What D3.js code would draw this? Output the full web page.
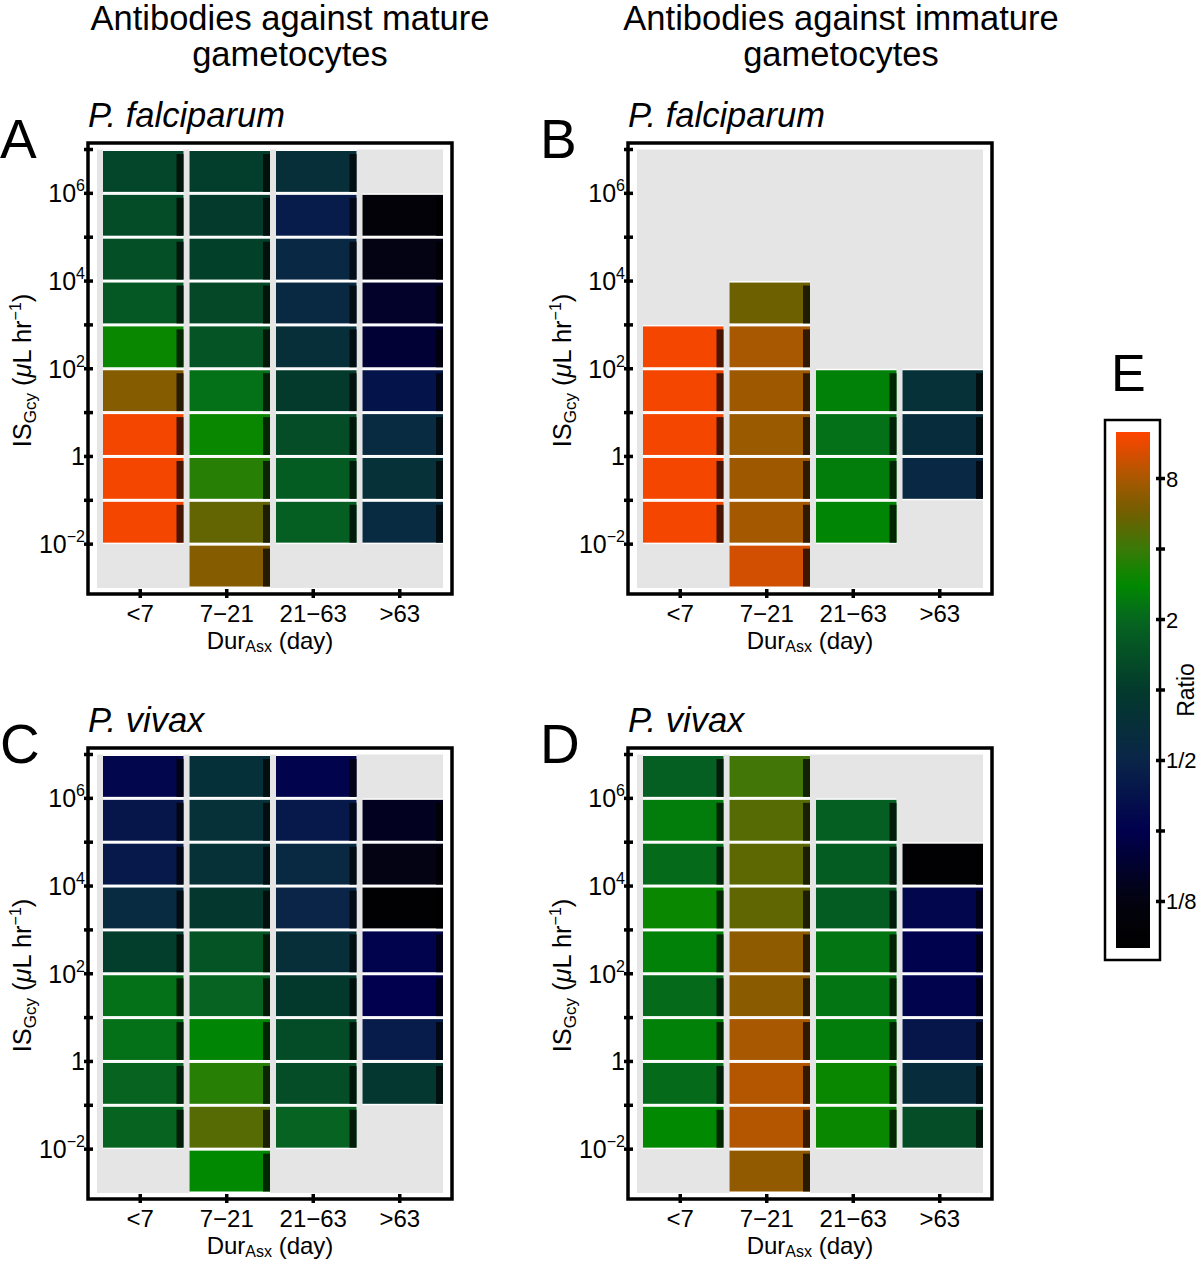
<!DOCTYPE html>
<html>
<head>
<meta charset="utf-8">
<script src="https://cdn.jsdelivr.net/npm/d3@7"></script>
<style>
  body { margin: 0; background: #fff; }
  svg { font-family: "Liberation Sans", Arial, sans-serif; }
</style>
</head>
<body>
<svg id="fig" width="1200" height="1262"></svg>
<script>
// duration bins (x) and IS_Gcy decades (y, log10 of lower bin edge)
const durCats = ['<7', '7\u221221', '21\u221263', '>63'];
const yLabelExp = [-2, 0, 2, 4, 6];
const yTickExp = [-2, -1, 0, 1, 2, 3, 4, 5, 6, 7];
const ratioTicks = [8, 4, 2, 1, 0.5, 0.25, 0.125];
const ratioLabels = ['8', '', '2', '', '1/2', '', '1/8'];

// each column: top bin exponent, then ratios from the top bin downwards
// A: mature, P. falciparum
const aTop = [6, 6, 6, 5];
const aRatio = [
  [1.2, 1.3, 1.4, 1.6, 3, 6.5, 12, 12, 12],
  [1.05, 1.0, 1.1, 1.25, 1.5, 2.2, 3, 3.6, 5.2, 6.5],
  [0.7, 0.42, 0.55, 0.58, 0.7, 1.0, 1.35, 1.7, 1.75],
  [0.1, 0.13, 0.17, 0.19, 0.36, 0.6, 0.75, 0.6]
];
// B: immature, P. falciparum
const bTop = [2, 3, 1, 1];
const bRatio = [
  [12, 12, 12, 12, 12],
  [5.5, 8, 7.5, 7.3, 7.5, 7.8, 10],
  [2.6, 2.2, 2.5, 2.7],
  [0.75, 0.65, 0.55]
];
// C: mature, P. vivax
const cTop = [6, 6, 6, 5];
const cRatio = [
  [0.28, 0.38, 0.4, 0.6, 1.05, 2.2, 2.2, 1.95, 1.95],
  [0.72, 0.75, 0.76, 0.95, 1.5, 1.9, 2.7, 3.6, 4.8, 2.8],
  [0.27, 0.4, 0.58, 0.5, 0.7, 0.98, 1.3, 1.35, 1.9],
  [0.15, 0.13, 0.09, 0.27, 0.25, 0.42, 0.9]
];
// D: immature, P. vivax
const dTop = [6, 6, 5, 4];
const dRatio = [
  [1.8, 2.5, 2.1, 3, 2.6, 2.1, 2.6, 2.1, 2.8],
  [4.2, 4.8, 5.0, 5.1, 6.8, 6.7, 8, 8.5, 8.5, 7],
  [1.8, 1.7, 1.7, 2.3, 2.3, 2.5, 3, 3],
  [0.09, 0.28, 0.26, 0.27, 0.38, 0.65, 1.35]
];

// colour map on log2(ratio)
const cStops = [-3.66, -3, -2, -1, 0, 1, 1.5, 2, 2.5, 3, 3.66];
const cCols = ['#000000', '#03030f', '#00004e', '#0a2548', '#033a2c', '#066620',
  '#008a00', '#3a7a08', '#705e00', '#a85800', '#ff4400'];
const color = d3.scaleLinear().domain(cStops).range(cCols)
  .interpolate(d3.interpolateRgb).clamp(true);
const fillOf = r => color(Math.log2(r));

const svg = d3.select('#fig');

// column headers
[['Antibodies against mature', 290], ['Antibodies against immature', 841]].forEach(([t, cx]) => {
  const tx = svg.append('text').attr('text-anchor', 'middle').attr('font-size', 34.5);
  tx.append('tspan').attr('x', cx).attr('y', 30).text(t);
  tx.append('tspan').attr('x', cx).attr('y', 66).text('gametocytes');
});

const W = 364, H = 451;
const x = d3.scaleBand().domain(durCats).range([9, 355]);
const y = d3.scaleLog().domain([1e-3, 1e7]).range([445, 6.5]);

const panels = [
  { letter: 'A', title: 'P. falciparum', fx: 88, fy: 143, top: aTop, vals: aRatio },
  { letter: 'B', title: 'P. falciparum', fx: 628, fy: 143, top: bTop, vals: bRatio },
  { letter: 'C', title: 'P. vivax', fx: 88, fy: 748, top: cTop, vals: cRatio },
  { letter: 'D', title: 'P. vivax', fx: 628, fy: 748, top: dTop, vals: dRatio }
];

panels.forEach(p => {
  const g = svg.append('g').attr('transform', `translate(${p.fx},${p.fy})`);

  svg.append('text').attr('x', p.fx - 88).attr('y', p.fy + 15)
    .attr('font-size', 55).text(p.letter);
  svg.append('text').attr('x', p.fx).attr('y', p.fy - 16)
    .attr('font-size', 34.5).attr('font-style', 'italic').text(p.title);

  g.append('rect').attr('x', x.range()[0]).attr('y', y(1e7))
    .attr('width', x.range()[1] - x.range()[0]).attr('height', y(1e-3) - y(1e7))
    .attr('fill', '#e5e5e5');

  const cells = [];
  p.vals.forEach((col, i) => {
    col.forEach((r, j) => cells.push({ cat: durCats[i], e: p.top[i] - j, r: r }));
  });

  const bw = x.bandwidth();
  const cg = g.selectAll('g.cell').data(cells).enter().append('g').attr('class', 'cell');
  cg.append('rect')
    .attr('x', d => x(d.cat) + 6).attr('width', bw - 6)
    .attr('y', d => y(Math.pow(10, d.e + 1))).attr('height', d => y(Math.pow(10, d.e)) - y(Math.pow(10, d.e + 1)))
    .attr('fill', '#fff');
  cg.append('rect')
    .attr('x', d => x(d.cat) + 6).attr('width', bw - 6)
    .attr('y', d => y(Math.pow(10, d.e + 1)) + 1.5)
    .attr('height', d => y(Math.pow(10, d.e)) - y(Math.pow(10, d.e + 1)) - 3)
    .attr('fill', d => fillOf(d.r));
  cg.append('rect')
    .attr('x', d => x(d.cat) + bw - 7).attr('width', 7)
    .attr('y', d => y(Math.pow(10, d.e + 1)) + 4.5)
    .attr('height', d => y(Math.pow(10, d.e)) - y(Math.pow(10, d.e + 1)) - 6)
    .attr('fill', d => d3.color(fillOf(d.r)).darker(3.5));

  g.append('rect').attr('width', W).attr('height', H)
    .attr('fill', 'none').attr('stroke', '#000').attr('stroke-width', 3.5);

  // y ticks
  g.selectAll('line.yt').data(yTickExp).enter().append('line')
    .attr('x1', -4).attr('x2', 5)
    .attr('y1', e => y(Math.pow(10, e))).attr('y2', e => y(Math.pow(10, e)))
    .attr('stroke', '#000').attr('stroke-width', 3.5);
  const yl = g.selectAll('text.yl').data(yLabelExp).enter().append('text')
    .attr('text-anchor', 'end').attr('x', -3)
    .attr('y', e => y(Math.pow(10, e)) + 9).attr('font-size', 25);
  yl.each(function (e) {
    const t = d3.select(this);
    if (e === 0) { t.text('1'); return; }
    t.append('tspan').text('10');
    t.append('tspan').attr('font-size', 16).attr('dy', -11)
      .text(e < 0 ? '\u2212' + (-e) : e);
  });

  // x ticks
  g.selectAll('line.xt').data(durCats).enter().append('line')
    .attr('x1', d => x(d) + bw / 2).attr('x2', d => x(d) + bw / 2)
    .attr('y1', H - 5).attr('y2', H + 4)
    .attr('stroke', '#000').attr('stroke-width', 3.5);
  g.selectAll('text.xl').data(durCats).enter().append('text')
    .attr('text-anchor', 'middle').attr('x', d => x(d) + bw / 2)
    .attr('y', H + 28).attr('font-size', 24).text(d => d);

  const xt = g.append('text').attr('text-anchor', 'middle')
    .attr('x', W / 2).attr('y', H + 55).attr('font-size', 24);
  xt.append('tspan').text('Dur');
  xt.append('tspan').attr('font-size', 16).attr('dy', 3).text('Asx');
  xt.append('tspan').attr('dy', -3).text(' (day)');

  const yt = g.append('text').attr('text-anchor', 'middle')
    .attr('transform', `translate(-57,${H / 2 + 2}) rotate(-90)`).attr('font-size', 25.5);
  yt.append('tspan').text('IS');
  yt.append('tspan').attr('font-size', 17).attr('dy', 5).text('Gcy');
  yt.append('tspan').attr('dy', -5).text(' (');
  yt.append('tspan').attr('font-style', 'italic').text('\u03bc');
  yt.append('tspan').text('L hr');
  yt.append('tspan').attr('font-size', 16).attr('dy', -10).text('\u22121');
  yt.append('tspan').attr('dy', 10).text(')');
});

// colour bar
const cb = svg.append('g');
const cy = d3.scaleLinear().domain([-3.66, 3.66]).range([948, 432]);
const grad = svg.append('defs').append('linearGradient').attr('id', 'cbar')
  .attr('x1', 0).attr('y1', 1).attr('x2', 0).attr('y2', 0);
grad.selectAll('stop').data(d3.range(0, 1.0001, 0.025)).enter().append('stop')
  .attr('offset', t => t)
  .attr('stop-color', t => color(-3.66 + t * 7.32));
cb.append('rect').attr('x', 1105).attr('y', 420).attr('width', 55).attr('height', 540)
  .attr('fill', '#fff').attr('stroke', '#000').attr('stroke-width', 2.5);
cb.append('rect').attr('x', 1116).attr('y', cy(3.66)).attr('width', 34)
  .attr('height', cy(-3.66) - cy(3.66)).attr('fill', 'url(#cbar)');
cb.selectAll('line.ct').data(ratioTicks).enter().append('line')
  .attr('x1', 1156).attr('x2', 1165)
  .attr('y1', r => cy(Math.log2(r))).attr('y2', r => cy(Math.log2(r)))
  .attr('stroke', '#000').attr('stroke-width', 3.5);
cb.selectAll('text.cl').data(ratioTicks).enter().append('text')
  .attr('x', 1166).attr('y', r => cy(Math.log2(r)) + 8).attr('font-size', 22)
  .text((r, i) => ratioLabels[i]);
cb.append('text').attr('text-anchor', 'middle')
  .attr('transform', `translate(1194,${cy(0)}) rotate(-90)`)
  .attr('font-size', 23).text('Ratio');
svg.append('text').attr('x', 1111).attr('y', 391).attr('font-size', 52).text('E');
</script>
</body>
</html>
